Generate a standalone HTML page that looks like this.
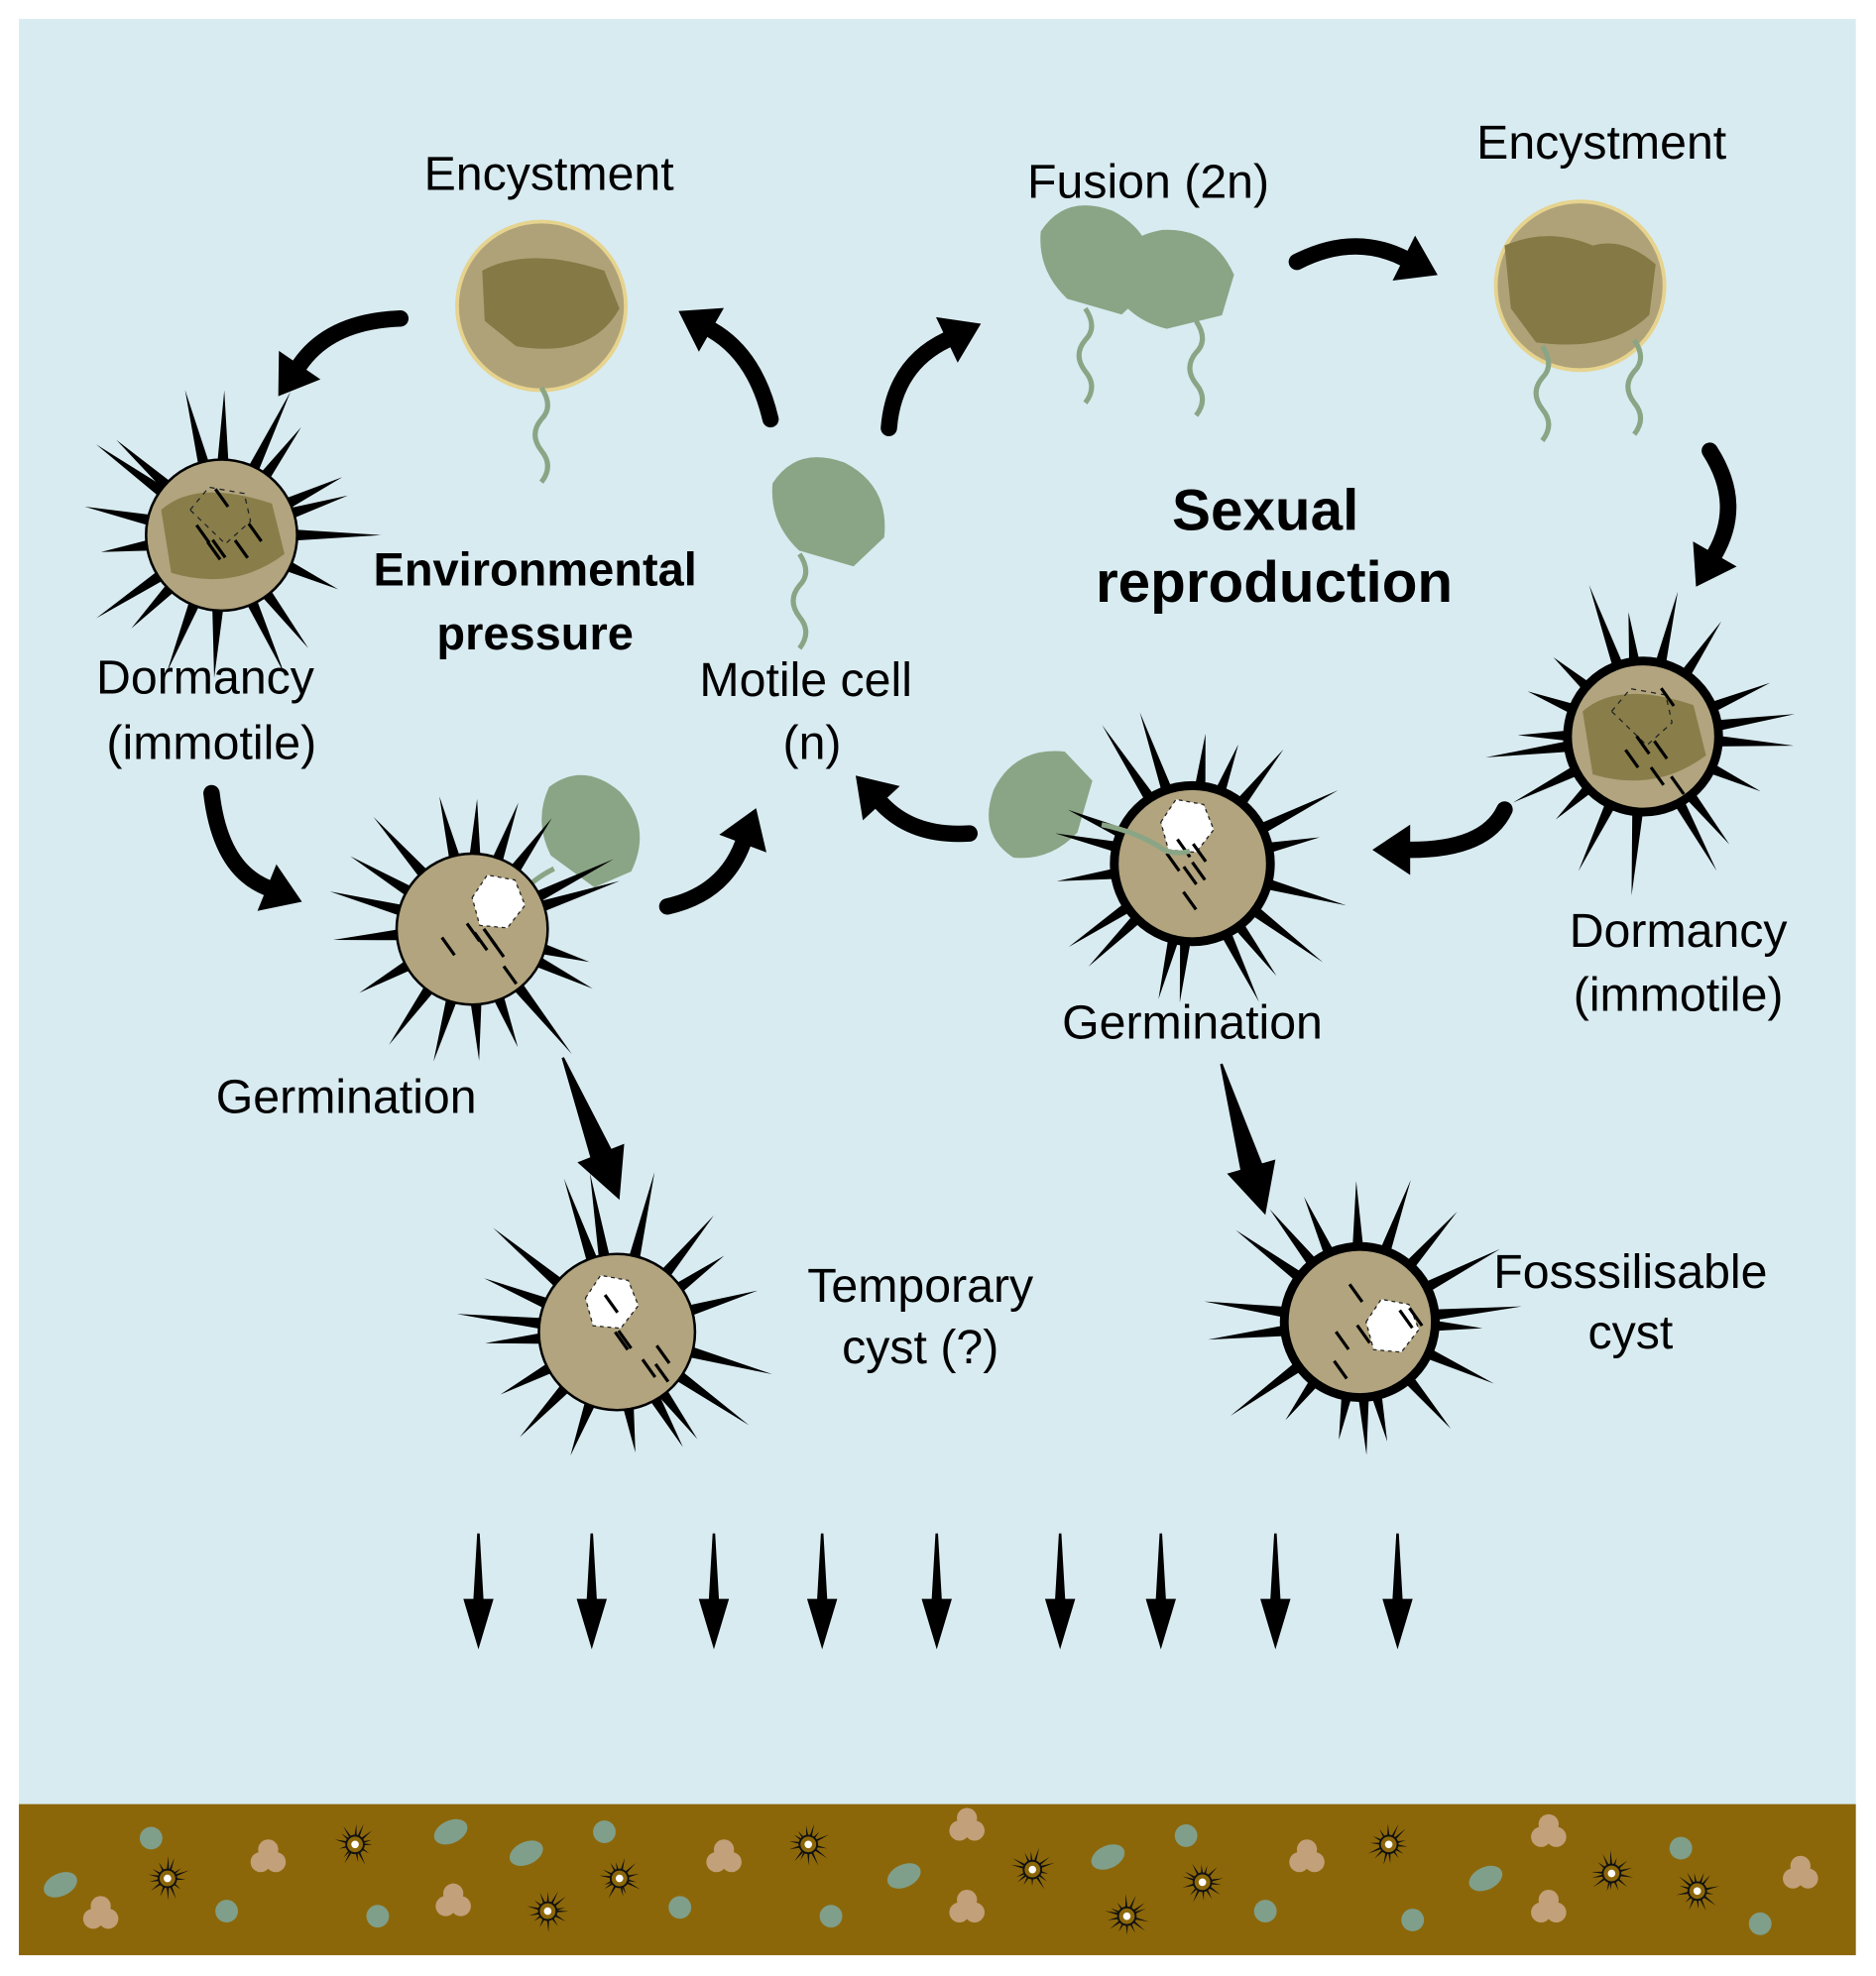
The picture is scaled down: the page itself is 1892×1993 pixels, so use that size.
<!DOCTYPE html>
<html><head><meta charset="utf-8"><style>
html,body{margin:0;padding:0;background:#fff;}
svg{display:block;}
text{font-family:"Liberation Sans",Arial,sans-serif;fill:#000;}
</style></head><body>
<svg id="s" width="1892" height="1993" viewBox="0 0 1490 1569.5" preserveAspectRatio="none" xmlns="http://www.w3.org/2000/svg">
<rect x="0" y="0" width="1490" height="1570" fill="#fff"/>
<rect x="15" y="15" width="1459" height="1420" fill="#d8ebf1"/>
<rect x="15" y="1433" width="1459" height="120" fill="#8c6709"/>
<g id="g"></g>
<g font-size="38" text-anchor="middle">
<text x="436" y="151">Encystment</text>
<text x="912" y="157">Fusion (2n)</text>
<text x="1272" y="126">Encystment</text>
<text x="1005" y="421" font-size="46" font-weight="bold">Sexual</text>
<text x="1012" y="478" font-size="46" font-weight="bold">reproduction</text>
<text x="425" y="465" font-size="37" font-weight="bold">Environmental</text>
<text x="425" y="516" font-size="37" font-weight="bold">pressure</text>
<text x="163" y="551">Dormancy</text>
<text x="168" y="603">(immotile)</text>
<text x="640" y="553">Motile cell</text>
<text x="645" y="603">(n)</text>
<text x="275" y="884">Germination</text>
<text x="947" y="825">Germination</text>
<text x="1333" y="752">Dormancy</text>
<text x="1333" y="803">(immotile)</text>
<text x="731" y="1034">Temporary</text>
<text x="731" y="1083">cyst (?)</text>
<text x="1295" y="1023">Fosssilisable</text>
<text x="1295" y="1071">cyst</text>
</g>
</svg>
<script>
var g=document.getElementById('g'),h='';
var seed=7;function rnd(){seed=(seed*16807)%2147483647;return seed/2147483647;}
function spikes(cx,cy,r,n,len,w,col){var s='';for(var i=0;i<n;i++){var a=i/n*Math.PI*2+rnd()*0.3;var L=len*(0.6+rnd()*0.6);
var c=Math.cos(a),si=Math.sin(a),px=-si,py=c;
s+='<polygon fill="'+col+'" points="'+(cx+c*(r-4)+px*w)+','+(cy+si*(r-4)+py*w)+' '+(cx+c*(r-4)-px*w)+','+(cy+si*(r-4)-py*w)+' '+(cx+c*(r+L))+','+(cy+si*(r+L))+'"/>';}return s;}
function cyst(cx,cy,r,thick,inner,hole){var s=spikes(cx,cy,r,18,58,4.5,'#000');
s+='<circle cx="'+cx+'" cy="'+cy+'" r="'+r+'" fill="#b1a47e" stroke="#000" stroke-width="'+(thick?7:2)+'"/>';
if(inner)s+='<path d="M'+(cx-48)+','+(cy-20)+' Q'+(cx-20)+','+(cy-45)+' '+(cx+40)+','+(cy-25)+' L'+(cx+50)+','+(cy+15)+' Q'+(cx+10)+','+(cy+45)+' '+(cx-40)+','+(cy+30)+' Z" fill="#857a45" opacity="0.9"/><path d="M'+(cx-25)+','+(cy-20)+' l15,-18 l28,5 l5,22 l-20,18 z" fill="none" stroke="#222" stroke-dasharray="4,4"/>';
if(hole)s+='<path d="M'+(cx+hole[0]-20)+','+(cy+hole[1]-5)+' l12,-18 l22,4 l8,20 l-14,18 l-22,-2 z" fill="#fff" stroke="#222" stroke-dasharray="3,3"/>';
for(var i=0;i<6;i++){var a=rnd()*6.28,d=rnd()*r*0.7;s+='<line x1="'+(cx+Math.cos(a)*d)+'" y1="'+(cy+Math.sin(a)*d)+'" x2="'+(cx+Math.cos(a)*d+10)+'" y2="'+(cy+Math.sin(a)*d+14)+'" stroke="#000" stroke-width="2.5"/>';}
return s;}
function flag(x,y){return '<path d="M'+x+','+y+' q10,15 0,25 q-10,12 0,25 q10,12 0,25" fill="none" stroke="#8aa585" stroke-width="4"/>';}
function cell(cx,cy,rot,sc){return '<path transform="translate('+cx+','+cy+') rotate('+rot+') scale('+(sc||1)+')" d="M-48,-5 Q-40,-40 0,-40 Q40,-35 50,5 L35,35 L-10,38 Q-40,25 -48,-5 Z" fill="#8aa585"/>';}
function arr(x1,y1,cx,cy,x2,y2,w){w=w||13;var s='<path d="M'+x1+','+y1+' Q'+cx+','+cy+' '+x2+','+y2+'" fill="none" stroke="#000" stroke-width="'+w+'" stroke-linecap="round"/>';
var dx=x2-cx,dy=y2-cy,l=Math.hypot(dx,dy);dx/=l;dy/=l;var px=-dy,py=dx;var hx=x2+dx*30,hy=y2+dy*30;
s+='<polygon points="'+hx+','+hy+' '+(x2+px*20)+','+(y2+py*20)+' '+(x2-px*20)+','+(y2-py*20)+'" fill="#000"/>';return s;}
function tarr(x1,y1,x2,y2,w,hw,hl){var dx=x2-x1,dy=y2-y1,l=Math.hypot(dx,dy);dx/=l;dy/=l;var px=-dy,py=dx;var bx=x2-dx*hl,by=y2-dy*hl;
return '<polygon fill="#000" points="'+(x1+px*1)+','+(y1+py*1)+' '+(x1-px*1)+','+(y1-py*1)+' '+(bx-px*w)+','+(by-py*w)+' '+(bx-px*hw)+','+(by-py*hw)+' '+x2+','+y2+' '+(bx+px*hw)+','+(by+py*hw)+' '+(bx+px*w)+','+(by+py*w)+'"/>';}
h+='<circle cx="430" cy="243" r="67" fill="#b0a278" stroke="#e6d38e" stroke-width="3"/><path d="M383,215 Q420,195 480,215 L492,245 Q470,285 410,275 L385,255 Z" fill="#857a45"/>'+flag(430,308);
h+='<circle cx="1255" cy="227" r="67" fill="#b0a278" stroke="#e6d38e" stroke-width="3"/><path d="M1195,195 Q1230,180 1265,195 Q1290,188 1315,210 L1310,250 Q1280,280 1220,272 L1200,245 Z" fill="#857a45"/>'+flag(1225,275)+flag(1298,270);
h+=cell(657,405,20)+flag(635,440);
h+=cell(870,205,20)+cell(930,222,-10)+flag(862,245)+flag(950,255);
h+=cell(468,658,40,0.95)+'<path d="M440,690 Q420,700 410,715 Q395,725 380,720" fill="none" stroke="#8aa585" stroke-width="4"/>';
h+=cell(825,640,-70,0.95);
h+=cyst(176,425,60,false,true,null);
h+=cyst(375,738,60,false,false,[20,-20]);
h+=cyst(490,1058,62,false,false,[-5,-22]);
h+=cyst(947,686,62,true,false,[-5,-28]);
h+='<path d="M875,655 Q900,660 920,672 Q930,680 945,676" fill="none" stroke="#8aa585" stroke-width="4"/>';
h+=cyst(1305,585,60,true,true,null);
h+=cyst(1080,1050,60,true,false,[25,5]);
h+=arr(318,253,262,255,238,290);
h+=arr(612,333,600,282,565,262);
h+=arr(706,340,710,290,752,270);
h+=arr(1030,208,1075,185,1115,205);
h+=arr(1358,358,1385,400,1362,440);
h+=arr(1195,643,1180,675,1120,675);
h+=arr(770,662,725,665,700,638);
h+=arr(530,720,575,710,590,670);
h+=arr(168,630,175,690,212,705);
h+=tarr(447,840,492,953,9,20,40);
h+=tarr(970,845,1005,965,9,20,40);
[380,470,567,653,744,842,922,1013,1110].forEach(function(x){h+=tarr(x,1218,x,1310,4,12,40);});
var items=[[48,1497,'g'],[80,1520,'b'],[120,1460,'c'],[133,1492,'s'],[180,1518,'c'],[213,1475,'b'],[282,1465,'s'],[300,1522,'c'],[358,1455,'g'],[360,1510,'b'],[418,1472,'g'],[435,1518,'s'],[480,1455,'c'],[492,1492,'s'],[540,1515,'c'],[575,1475,'b'],[642,1465,'s'],[660,1522,'c'],[718,1490,'g'],[768,1450,'b'],[768,1515,'b'],[820,1485,'s'],[880,1475,'g'],[895,1522,'s'],[942,1458,'c'],[955,1495,'s'],[1005,1518,'c'],[1038,1475,'b'],[1103,1465,'s'],[1122,1525,'c'],[1180,1492,'g'],[1230,1455,'b'],[1230,1515,'b'],[1280,1488,'s'],[1335,1468,'c'],[1348,1502,'s'],[1398,1528,'c'],[1430,1488,'b']];
items.forEach(function(t){var x=t[0],y=t[1];
if(t[2]=='c')h+='<circle cx="'+x+'" cy="'+y+'" r="9" fill="#7f9f8a"/>';
else if(t[2]=='g')h+='<ellipse cx="'+x+'" cy="'+y+'" rx="14" ry="9" transform="rotate(-25 '+x+' '+y+')" fill="#7f9f8a"/>';
else if(t[2]=='b')h+='<circle cx="'+(x-6)+'" cy="'+(y+4)+'" r="8" fill="#c2a07a"/><circle cx="'+(x+6)+'" cy="'+(y+4)+'" r="8" fill="#c2a07a"/><circle cx="'+x+'" cy="'+(y-6)+'" r="8" fill="#c2a07a"/>';
else h+=spikes(x,y,7,14,10,1.2,'#111')+'<circle cx="'+x+'" cy="'+y+'" r="7" fill="#8c6709" stroke="#111" stroke-width="1.5"/><circle cx="'+x+'" cy="'+y+'" r="3" fill="#fff"/>';});
g.innerHTML=h;
</script>
</body></html>
